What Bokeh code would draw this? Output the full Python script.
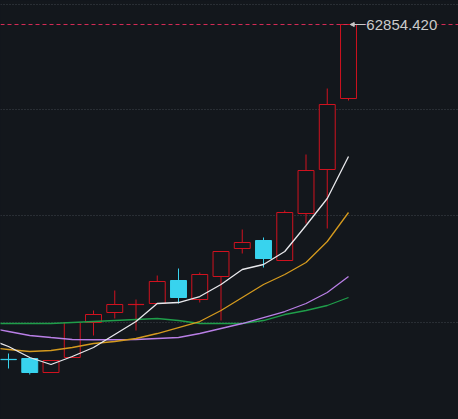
from bokeh.plotting import figure
from bokeh.models import ColumnDataSource, FixedTicker, Span, Label, Arrow, NormalHead, Range1d, GlobalInlineStyleSheet
from bokeh.embed import file_html
from bokeh.resources import INLINE

# ---- data ----
idx = list(range(17))
opens  = [12290, 12420, 10306, 12571, 17856, 19366, 20560, 20725, 24198, 21329, 24802, 29030, 30238, 27218, 34315, 40959, 51680]
highs  = [13175, 12420, 12118, 17856, 19668, 22688, 21329, 24953, 26010, 25406, 28577, 31899, 30691, 34768, 43224, 53190, 62854.42]
lows   = [10910, 10004, 10306, 12571, 15893, 18460, 16648, 20725, 20725, 20876, 18158, 28275, 26161, 27218, 32805, 32050, 51378]
closes = [12250, 10306, 12118, 17856, 19064, 20574, 20590, 24047, 21631, 25104, 28577, 29936, 27520, 34466, 40808, 50774, 62854.42]

ma_idx = list(range(-1, 17))
ma5  = [15440, 14232, 12571, 11514, 12722, 14081, 16044, 18007, 20725, 20876, 21782, 23594, 25859, 26614, 28577, 32503, 36580, 42922]
ma10 = [14081, 13779, 13477, 13628, 14081, 14685, 14987, 15440, 16195, 17101, 18007, 19668, 21631, 23594, 25104, 26916, 30087, 34466]
ma20 = [17101, 16497, 15893, 15591, 15290, 15250, 15250, 15290, 15440, 15591, 16195, 16950, 17705, 18611, 19517, 20725, 22386, 24802]
ma60 = [17705, 17705, 17705, 17705, 17856, 18007, 18158, 18309, 18460, 18158, 17705, 17705, 17705, 18158, 19064, 19668, 20423, 21631]

grid_levels = [17856, 34013, 50019, 65874]
price_label = "62854.420"

BG = "#13171c"
UP = "#d0121f"
DOWN = "#38d3ee"

p = figure(width=458, height=419, output_backend="svg", toolbar_location=None,
           x_range=Range1d(-0.3765, 21.176), y_range=Range1d(3209.42, 66478.42),
           min_border=0, background_fill_color=BG, border_fill_color=BG,
           outline_line_color=None)
p.stylesheets = [GlobalInlineStyleSheet(css="html,body{margin:0;padding:0;background:#13171c;overflow:hidden;}")]
p.axis.visible = False
p.xgrid.visible = False
p.ygrid.ticker = FixedTicker(ticks=grid_levels)
p.ygrid.grid_line_color = "#41464d"
p.ygrid.grid_line_dash = "1 2"
p.ygrid.grid_line_width = 1

top_b = [max(o, c) for o, c in zip(opens, closes)]
bot_b = [min(o, c) for o, c in zip(opens, closes)]
colors = [UP if c >= o else DOWN for o, c in zip(opens, closes)]
fills = [BG if c >= o else DOWN for o, c in zip(opens, closes)]

src = ColumnDataSource(dict(x=idx, o=opens, h=highs, l=lows, c=closes,
                            tb=top_b, bb=bot_b, col=colors, fill=fills))

# price line at the high
hi = max(highs)
p.add_layout(Span(location=hi, dimension="width", line_color="#d42a55",
                  line_dash="4 3", line_width=1))

p.segment("x", "h", "x", "tb", source=src, line_color="col", line_width=1)
p.segment("x", "bb", "x", "l", source=src, line_color="col", line_width=1)
p.vbar(x="x", width=0.75, top="tb", bottom="bb", source=src,
       fill_color="fill", line_color="col", line_width=1)

p.line(ma_idx, ma60, line_color="#1f9e4a", line_width=1.3)
p.line(ma_idx, ma20, line_color="#b97fe6", line_width=1.3)
p.line(ma_idx, ma10, line_color="#d49a1e", line_width=1.3)
p.line(ma_idx, ma5, line_color="#e8e8ec", line_width=1.3)

last = idx[-1]
lab = Label(x=last + 0.84, y=hi, text=price_label, text_color="#cbcbcb",
            text_font="Liberation Sans", text_font_size="15px",
            text_baseline="middle", text_align="left",
            background_fill_color=BG, x_offset=0)
p.add_layout(lab)
p.add_layout(Arrow(x_start=last + 0.8, y_start=hi, x_end=last + 0.08, y_end=hi,
                   line_color="#c8c8c8", line_width=1,
                   end=NormalHead(size=4, fill_color="#c8c8c8", line_color="#c8c8c8")))

open("out.html", "w").write(file_html(p, INLINE))
